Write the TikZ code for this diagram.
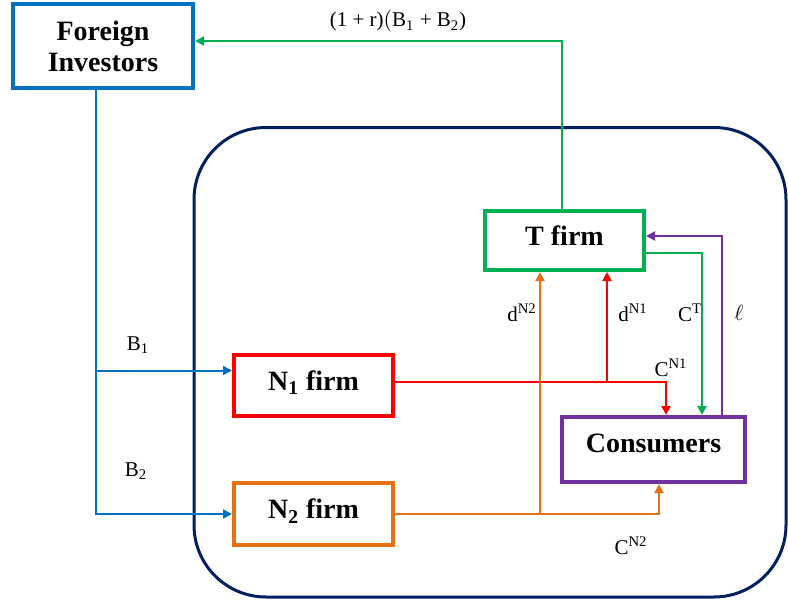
\documentclass[tikz,border=0pt]{standalone}
\usepackage{fontspec}
\setmainfont{Liberation Serif}
\usetikzlibrary{arrows.meta}
\definecolor{fblue}{RGB}{0,112,192}
\definecolor{tgreen}{RGB}{0,176,80}
\definecolor{nred}{RGB}{255,0,0}
\definecolor{norange}{RGB}{230,112,20}
\definecolor{cpurple}{RGB}{112,48,160}
\definecolor{navy}{RGB}{0,32,96}
\begin{document}
\begin{tikzpicture}[x=0.5pt,y=-0.5pt,>={Triangle[length=4.5pt,width=4.5pt]},
	box/.style={draw,line width=2pt,fill=white,align=center,inner sep=0pt,font=\fontsize{14}{15.5}\selectfont\bfseries},
	raised/.style={text depth=5pt},
	flow/.style={line width=1pt},
	lab/.style={font=\fontsize{10.5}{12}\selectfont,inner sep=1pt}]
			\useasboundingbox (0,0) rectangle (788,605);
			\draw[navy,line width=1.5pt,rounded corners=36pt] (194,127.5) rectangle (786,597);
			%%%
			\node[box,draw=fblue,minimum width=90pt,minimum height=42pt] (foreign) at (103,46) {Foreign\\Investors};
			\node[box,raised,draw=tgreen,minimum width=79.5pt,minimum height=29.5pt] (tfirm) at (564.5,240.5) {T firm};
			\node[box,raised,draw=nred,minimum width=79.5pt,minimum height=30.5pt] (nfirm1) at (313.5,385.5) {N\textsubscript{1} firm};
			\node[box,raised,draw=norange,minimum width=79.5pt,minimum height=31pt] (nfirm2) at (313.5,514) {N\textsubscript{2} firm};
			\node[box,raised,text depth=6pt,draw=cpurple,minimum width=91.5pt,minimum height=32.5pt] (cons) at (653.5,449.5) {Consumers};
			%%%
			\draw[flow,tgreen,->] ([xshift=-1.25pt]tfirm.north) |- ([yshift=2.5pt]foreign.east);
			\node[lab] (repay) at (398,21) {(1 + r)$\bigl($B\textsubscript{1} + B\textsubscript{2})};
			%%%
			\draw[flow,fblue,->] ([xshift=-3.75pt]foreign.south) |- ([yshift=7.5pt]nfirm1.west);
			\draw[flow,fblue,->] ([xshift=-3.75pt]foreign.south) |- (nfirm2.west);
			\node[lab] (bone) at (138,345) {B\textsubscript{1}};
			\node[lab] (btwo) at (136,471) {B\textsubscript{2}};
			%%%
			\coordinate (rsplit) at (607,382);
			\draw[flow,nred,->] ([yshift=1.75pt]nfirm1.east) -| ([xshift=6.25pt]cons.north);
			\draw[flow,nred,->] (rsplit) -- (rsplit |- tfirm.south);
			\coordinate (osplit) at (540,514);
			\draw[flow,norange,->] (nfirm2.east) -| ([xshift=2.75pt]cons.south);
			\draw[flow,norange,->] (osplit) -- (osplit |- tfirm.south);
			\draw[flow,tgreen,->] ([yshift=-6.25pt]tfirm.east) -| ([xshift=24.25pt]cons.north);
			\draw[flow,cpurple,->] ([xshift=34.25pt]cons.north) |- ([yshift=2.25pt]tfirm.east);
			%%%
			\node[lab] (dntwo) at (522,313) {d\textsuperscript{N2}};
			\node[lab] (dnone) at (633,313) {d\textsuperscript{N1}};
			\node[lab] (ct) at (690,313) {C\textsuperscript{T}};
			\node[lab] (ell) at (739,313) {$\ell$};
			\node[lab] (cnone) at (671,368) {C\textsuperscript{N1}};
			\node[lab] (cntwo) at (631,546) {C\textsuperscript{N2}};
		\end{tikzpicture}
\end{document}
